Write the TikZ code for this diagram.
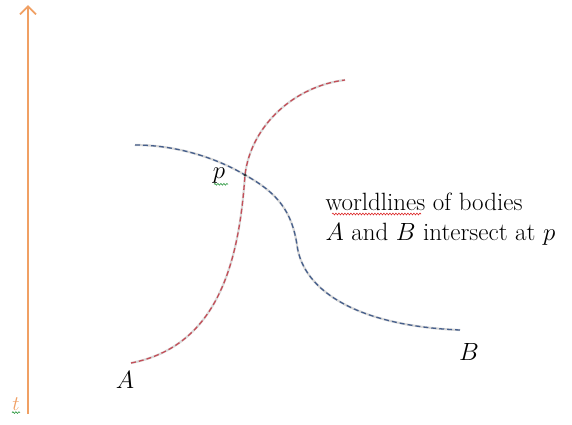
\documentclass[tikz,border=0pt]{standalone}
\usepackage{fontspec}
\usepackage{xcolor}
\usepackage{tikz}
\usetikzlibrary{arrows.meta, positioning, decorations.pathmorphing}
\definecolor{axisorange}{RGB}{240,160,100}
\definecolor{lineA}{RGB}{196,78,88}
\definecolor{lineB}{RGB}{70,95,140}
\definecolor{spellred}{RGB}{220,40,40}
\definecolor{spellgreen}{RGB}{40,150,60}
\tikzset{
  underlay/.style={gray!30, line width=2.2pt},
  worldA/.style={lineA, line width=1.3pt, dash pattern=on 5pt off 3pt},
  worldB/.style={lineB, line width=1.3pt, dash pattern=on 5pt off 3pt},
  lbl/.style={font=\fontsize{25}{30}\selectfont},
  squiggle/.style={line width=0.6pt, decorate, decoration={snake, amplitude=0.9pt, segment length=3pt}}
}
\begin{document}
\begin{tikzpicture}[x=1pt,y=-1pt]
\useasboundingbox (0,0) rectangle (572,424);
% time axis
\coordinate (tbot) at (28,414);
\coordinate (ttop) at (28,5);
\draw[axisorange, line width=1.8pt, -{Straight Barb[length=8pt,width=16pt]}] (tbot) -- (ttop);
\node[lbl, text=axisorange, inner sep=0pt, font=\fontsize{22}{26}\selectfont] (tlbl) at (16,404) {$t$};
\draw[spellgreen, squiggle] ([xshift=-4pt,yshift=-2pt]tlbl.south) -- ([xshift=4pt,yshift=-2pt]tlbl.south);
% worldline points
\coordinate (Astart) at (131,363);
\coordinate (p) at (245,175);
\coordinate (Aend) at (345,80);
\coordinate (Bstart) at (135,145);
\coordinate (Bend) at (460,330);
% body A
\draw[underlay] (Astart) .. controls (218,346) and (239,262) .. (p) .. controls (251,125) and (295,86) .. (Aend);
\draw[worldA] (Astart) .. controls (218,346) and (239,262) .. (p) .. controls (251,125) and (295,86) .. (Aend);
% body B
\draw[underlay] (Bstart) .. controls (180,145) and (220,160) .. (p) .. controls (278,193) and (292,212) .. (297,245) .. controls (303,292) and (360,326) .. (Bend);
\draw[worldB] (Bstart) .. controls (180,145) and (220,160) .. (p) .. controls (278,193) and (292,212) .. (297,245) .. controls (303,292) and (360,326) .. (Bend);
\fill[black!80] (p) circle (1.6pt);
% labels
\node[lbl] (plbl) at (219,176) {$p$};
\draw[spellgreen, squiggle] ([xshift=-5pt,yshift=3pt]plbl.south) -- ([xshift=9pt,yshift=3pt]plbl.south);
\node[lbl] (Albl) at (125,380) {$A$};
\node[lbl] (Blbl) at (469,352) {$B$};
\node[lbl, align=left, anchor=west] (note) at (322,219) {worldlines of bodies\\$A$ and $B$ intersect at $p$};
\draw[spellred, squiggle] (332,214) -- (421,214);
\end{tikzpicture}
\end{document}
